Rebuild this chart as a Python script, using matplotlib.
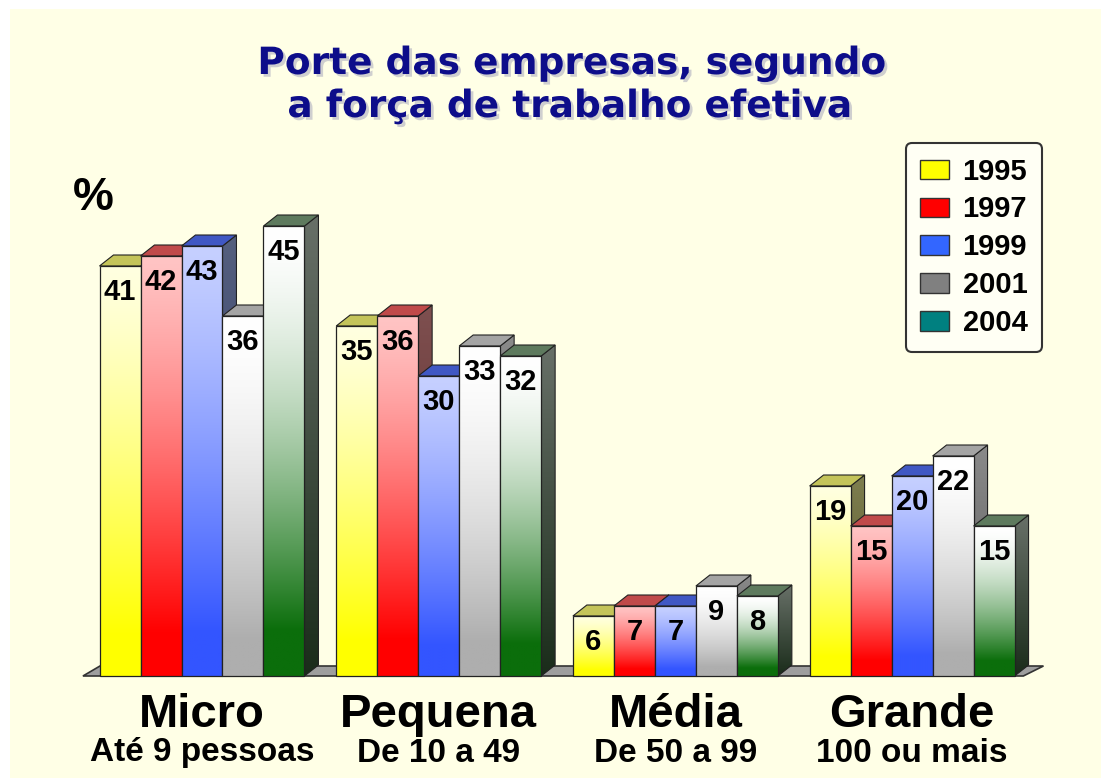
import numpy as np
import matplotlib
matplotlib.use('Agg')
import matplotlib.pyplot as plt
from matplotlib.patches import Rectangle, Polygon, Patch
import matplotlib.patheffects as pe
from matplotlib.colors import to_rgb

categories = ['Micro', 'Pequena', 'Média', 'Grande']
subtitles = ['Até 9 pessoas', 'De 10 a 49', 'De 50 a 99', '100 ou mais']
years = ['1995', '1997', '1999', '2001', '2004']

values_1995 = [41, 35, 6, 19]
values_1997 = [42, 36, 7, 15]
values_1999 = [43, 30, 7, 20]
values_2001 = [36, 33, 9, 22]
values_2004 = [45, 32, 8, 15]
series = [values_1995, values_1997, values_1999, values_2001, values_2004]

# cores: face frontal (topo/base do degradê), face superior, face lateral
front_top = ['#FFFFE0', '#FFC4C4', '#C6D0FF', '#FFFFFF', '#FFFFFF']
front_bottom = ['#FFFF00', '#FF0000', '#3355FF', '#AEAEAE', '#0B6E0B']
top_face = ['#C4C45A', '#C04A4A', '#4058C4', '#A4A4A4', '#5E7A5E']
side_top = ['#7E7E50', '#7E5050', '#55607E', '#8A8A8A', '#687068']
side_bottom = ['#505020', '#581E1E', '#262E66', '#585858', '#1A2C1A']
legend_colors = ['#FFFF00', '#FF0000', '#3366FF', '#808080', '#008080']

BAR_W = 0.1732      # largura de cada barra (unidades de grupo)
DX, DY = 0.059, 1.1  # profundidade 3D
EDGE = '#222222'


def gradient(ax, c_top, c_bottom, extent, clip, z, ramp=0.9, power=1.3):
    t = np.linspace(0, 1, 200)
    w = (np.clip(t / ramp, 0, 1) ** power)[:, None, None]
    img = (1 - w) * np.array(to_rgb(c_top)) + w * np.array(to_rgb(c_bottom))
    im = ax.imshow(img, extent=extent, origin='upper', aspect='auto',
                   interpolation='bilinear', zorder=z)
    im.set_clip_path(clip)


fig = plt.figure(figsize=(11.01, 7.78), dpi=100)
fig.patch.set_facecolor('white')
fig.add_artist(Rectangle((10 / 1101, 0), 1, 1 - 9 / 778, transform=fig.transFigure,
                         facecolor='#FFFFE6', edgecolor='none', zorder=0))

ax = fig.add_axes([60 / 1101, (778 - 691) / 778, 1000 / 1101, 515 / 778])
ax.set_facecolor('none')

# piso
floor = Polygon([(-0.503, 0), (3.47, 0), (3.47 + 0.085, 1.0), (-0.503 + 0.072, 1.0)],
                closed=True, facecolor='#9E9E9E', edgecolor='#333333', lw=1.2, zorder=1)
ax.add_patch(floor)

groups = np.arange(len(categories))
for g in groups:
    for i, vals in enumerate(series):
        v = vals[g]
        x0 = g + (i - 2.5) * BAR_W
        x1 = x0 + BAR_W
        z = 2 + i

        side = Polygon([(x1, 0), (x1 + DX, DY), (x1 + DX, v + DY), (x1, v)], closed=True,
                       facecolor='none', edgecolor=EDGE, lw=0.8, zorder=z + 0.01)
        ax.add_patch(side)
        gradient(ax, side_top[i], side_bottom[i], (x1, x1 + DX, 0, v + DY), side, z,
                 ramp=1.0, power=1.0)

        top = Polygon([(x0, v), (x0 + DX, v + DY), (x1 + DX, v + DY), (x1, v)], closed=True,
                      facecolor=top_face[i], edgecolor=EDGE, lw=0.8, zorder=z + 0.02)
        ax.add_patch(top)

        front = Rectangle((x0, 0), BAR_W, v, facecolor='none', edgecolor=EDGE, lw=0.9,
                          zorder=z + 0.2)
        ax.add_patch(front)
        gradient(ax, front_top[i], front_bottom[i], (x0, x1, 0, v), front, z + 0.1,
                 power=1.6 if i >= 3 else 1.3)

        ax.text(x0 + BAR_W / 2, v - 2.6, str(v), ha='center', va='center',
                fontsize=21, fontweight='bold', family='Liberation Sans',
                color='#000000', zorder=20)

    ax.text(g, -3.9, categories[g], ha='center', va='center', fontsize=34,
            fontweight='bold', family='Liberation Sans', color='#000000')
    ax.text(g, -7.7, subtitles[g], ha='center', va='center', fontsize=24,
            fontweight='bold', family='Liberation Sans', color='#000000')

ax.set_xlim((60 - 202) / 236.7, (1060 - 202) / 236.7)
ax.set_ylim(-1.5, 50)
ax.axis('off')

# título
shadow = [pe.SimplePatchShadow(offset=(2, -2), shadow_rgbFace='#b0b0c0', alpha=0.6), pe.Normal()]
title_kw = dict(ha='center', va='center', fontsize=27, fontweight='bold',
                family='DejaVu Sans', color='#0D0D8A', path_effects=shadow)
fig.text(572 / 1101, 1 - 64 / 778, 'Porte das empresas, segundo', **title_kw)
fig.text(570 / 1101, 1 - 107 / 778, 'a força de trabalho efetiva', **title_kw)

fig.text(93 / 1101, 1 - 198 / 778, '%', ha='center', va='center', fontsize=33,
         fontweight='bold', family='Liberation Sans', color='#000000')

# legenda
handles = [Patch(facecolor=c, edgecolor='#333333', lw=1.0) for c in legend_colors]
leg = fig.legend(handles, years, loc='upper right',
                 bbox_to_anchor=(1042 / 1101, 1 - 143 / 778), borderaxespad=0,
                 prop={'family': 'Liberation Sans', 'weight': 'bold', 'size': 21},
                 handlelength=1.0, handleheight=0.65, handletextpad=0.45,
                 labelspacing=0.34, borderpad=0.5, frameon=True, fancybox=True,
                 framealpha=1)
leg.get_frame().set_facecolor('#FFFFF4')
leg.get_frame().set_edgecolor('#333333')
leg.get_frame().set_linewidth(1.5)

fig.savefig('out.png', dpi=100)
